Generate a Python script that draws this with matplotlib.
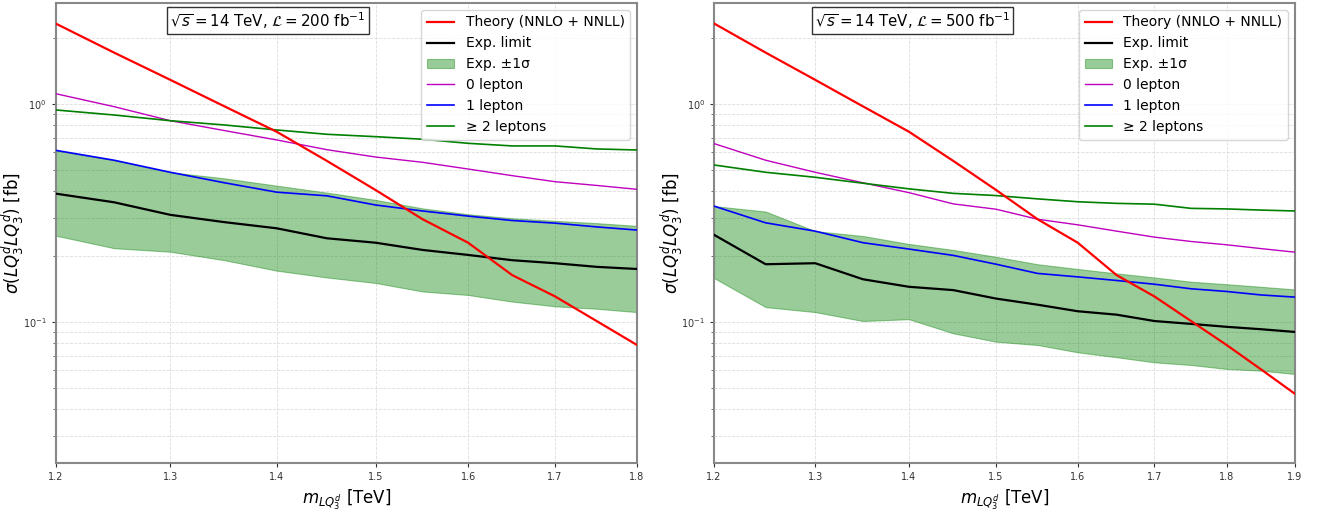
#import needed modules
import numpy as np
import matplotlib
matplotlib.use('Agg')
import matplotlib.pyplot as plt
from matplotlib.ticker import FixedLocator, FormatStrFormatter, NullLocator

#masses (TeV) for the two luminosities
mass_200 = [1.2, 1.25, 1.3, 1.35, 1.4, 1.45, 1.5, 1.55, 1.6, 1.65, 1.7, 1.75, 1.8]
mass_500 = [1.2, 1.25, 1.3, 1.35, 1.4, 1.45, 1.5, 1.55, 1.6, 1.65, 1.7, 1.75, 1.8, 1.85, 1.9]

#theory cross section (fb)
theory_200 = [2.34, 1.72, 1.29, 0.975, 0.746, 0.548, 0.403, 0.296, 0.231, 0.164, 0.131, 0.101, 0.0784]
theory_500 = [2.34, 1.72, 1.29, 0.975, 0.746, 0.548, 0.403, 0.296, 0.231, 0.164, 0.131, 0.101, 0.0784, 0.0605, 0.0468]

#200 fb^-1 limits
explim_200 = [0.388, 0.354, 0.310, 0.287, 0.269, 0.242, 0.231, 0.214, 0.203, 0.192, 0.186, 0.179, 0.175]
band_up_200 = [0.613, 0.552, 0.486, 0.456, 0.422, 0.392, 0.363, 0.332, 0.312, 0.299, 0.291, 0.284, 0.276]
band_dn_200 = [0.249, 0.218, 0.210, 0.192, 0.172, 0.160, 0.151, 0.138, 0.133, 0.124, 0.118, 0.115, 0.111]
lep0_200 = [1.115, 0.972, 0.838, 0.755, 0.684, 0.617, 0.571, 0.540, 0.503, 0.469, 0.440, 0.423, 0.406]
lep1_200 = [0.613, 0.552, 0.486, 0.435, 0.394, 0.379, 0.344, 0.323, 0.306, 0.292, 0.284, 0.273, 0.264]
lep2_200 = [0.939, 0.890, 0.838, 0.801, 0.760, 0.726, 0.708, 0.689, 0.660, 0.642, 0.642, 0.622, 0.615]

#500 fb^-1 limits
explim_500 = [0.251, 0.184, 0.186, 0.157, 0.145, 0.140, 0.128, 0.120, 0.112, 0.108, 0.101, 0.098, 0.095, 0.0926, 0.090]
band_up_500 = [0.340, 0.321, 0.261, 0.248, 0.228, 0.214, 0.199, 0.184, 0.175, 0.167, 0.160, 0.153, 0.149, 0.145, 0.141]
band_dn_500 = [0.159, 0.117, 0.111, 0.101, 0.103, 0.0887, 0.0812, 0.0784, 0.0726, 0.0689, 0.0653, 0.0635, 0.0609, 0.0598, 0.0577]
lep0_500 = [0.658, 0.552, 0.486, 0.435, 0.392, 0.348, 0.329, 0.296, 0.279, 0.261, 0.245, 0.234, 0.226, 0.217, 0.209]
lep1_500 = [0.340, 0.285, 0.261, 0.231, 0.216, 0.202, 0.184, 0.167, 0.161, 0.155, 0.149, 0.142, 0.138, 0.133, 0.130]
lep2_500 = [0.525, 0.486, 0.461, 0.433, 0.408, 0.389, 0.380, 0.367, 0.356, 0.350, 0.347, 0.332, 0.330, 0.326, 0.323]

#x tick labels for each panel
xticks_200 = [1.2, 1.3, 1.4, 1.5, 1.6, 1.7, 1.8]
xticks_500 = [1.2, 1.3, 1.4, 1.5, 1.6, 1.7, 1.8, 1.9]

lumis = ['200', '500']

fig = plt.figure(figsize=(13.26, 5.13), dpi=100)
ax1 = fig.add_axes([0.0419, 0.0984, 0.4385, 0.8958])
ax2 = fig.add_axes([0.5385, 0.0984, 0.4381, 0.8958])

panels = [
    (ax1, mass_200, theory_200, explim_200, band_up_200, band_dn_200, lep0_200, lep1_200, lep2_200, xticks_200, lumis[0]),
    (ax2, mass_500, theory_500, explim_500, band_up_500, band_dn_500, lep0_500, lep1_500, lep2_500, xticks_500, lumis[1]),
]

for ax, m, th, lim, up, dn, l0, l1, l2, xt, lumi in panels:
    ax.plot(m, th, color='red', lw=1.6, label='Theory (NNLO + NNLL)', zorder=5)
    ax.plot(m, lim, color='black', lw=1.6, label='Exp. limit', zorder=4)
    ax.fill_between(m, dn, up, color='green', alpha=0.4, lw=0.8, label='Exp. ±1σ', zorder=2)
    ax.plot(m, l0, color='m', lw=1.0, label='0 lepton', zorder=3)
    ax.plot(m, l1, color='b', lw=1.2, label='1 lepton', zorder=3)
    ax.plot(m, l2, color='g', lw=1.2, label='≥ 2 leptons', zorder=3)

    ax.set_xscale('log')
    ax.set_yscale('log')
    ax.set_xlim(m[0], m[-1])
    ax.set_ylim(0.02266, 2.906)
    ax.xaxis.set_major_locator(FixedLocator(xt))
    ax.xaxis.set_major_formatter(FormatStrFormatter('%.1f'))
    ax.xaxis.set_minor_locator(NullLocator())

    ax.grid(True, which='major', ls='--', lw=0.6, color='#dddddd')
    ax.grid(True, which='minor', axis='y', ls='--', lw=0.6, color='#dddddd')
    ax.tick_params(labelsize=7, colors='#333333', length=3)
    ax.tick_params(which='minor', length=2, color='#555555')
    for sp in ax.spines.values():
        sp.set_color('#888888')
        sp.set_linewidth(1.5)

    ax.set_xlabel(r'$m_{LQ_3^d}$ [TeV]', fontsize=12)
    ax.set_ylabel(r'$\sigma(LQ_3^dLQ_3^d)$ [fb]', fontsize=12)
    ax.yaxis.set_label_coords(-0.05, 0.5)

    ax.text(1.3, 0.984, r'$\sqrt{s} = 14$ TeV, $\mathcal{L} = %s$ fb$^{-1}$' % lumi,
            transform=ax.get_xaxis_transform(), ha='left', va='top', fontsize=10.8,
            bbox=dict(boxstyle='square,pad=0.2', fc='white', ec='#333333', lw=1))

    ax.legend(loc='upper right', fontsize=10)

#export the plot
plt.savefig('out.png', dpi=100)
